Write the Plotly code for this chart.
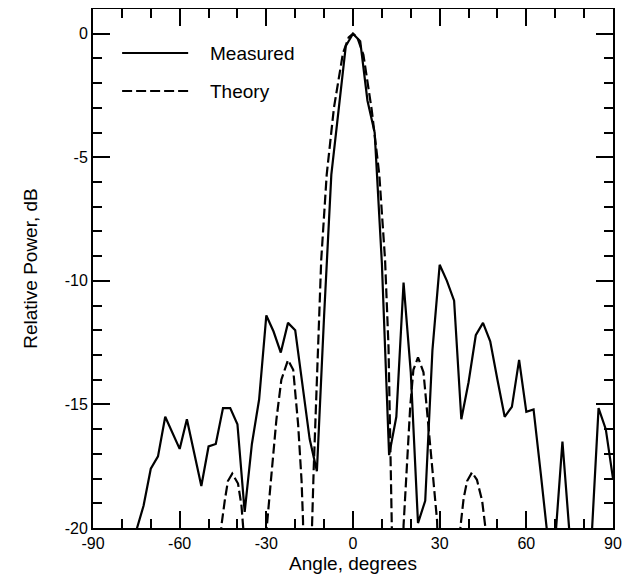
import plotly.graph_objects as go

# Measured pattern (angle in degrees, relative power in dB)
meas_angle = [-77.5, -75, -72.5, -70, -67.5, -65, -60, -57.5, -52.5, -50, -47.5, -45, -42.5, -40,
              -37.5, -35, -32.5, -30, -27.5, -25, -22.5, -20, -15, -12.5, -10, -7.5, -5, -2.5, 0,
              2.5, 5, 7.5, 10, 12.5, 15, 17.5, 20, 22.5, 25, 27.5, 30, 32.5, 35, 37.5, 40, 42.5,
              45, 47.5, 50, 52.5, 55, 57.5, 60, 62.5, 65, 67.5, 70, 72.5, 75, 77.5, 80, 82.5, 85,
              87.5, 90]
meas_db = [-21.0, -20.1, -19.1, -17.6, -17.1, -15.5, -16.8, -15.6, -18.3, -16.7, -16.6, -15.15, -15.15, -15.8,
           -19.35, -16.6, -14.8, -11.4, -12.05, -12.9, -11.7, -12.0, -16.4, -17.7, -11.4, -5.7, -3.1, -0.5, 0.0,
           -0.3, -2.7, -4.0, -9.3, -17.05, -15.5, -10.07, -13.7, -19.8, -18.9, -12.8, -9.35, -10.0, -10.8, -15.6, -14.1, -12.2,
           -11.7, -12.45, -14.0, -15.5, -15.1, -13.2, -15.3, -15.2, -17.8, -20.5, -20.5, -16.5, -20.3, -21.0, -21.0, -20.6, -15.15,
           -16.0, -18.0]

# Theory pattern
theo_angle = [-47.0, -45.6, -44.4, -43.3, -41.8, -39.8, -38.6, -38.0, -34.0,
              -29.8, -28.2, -26.5, -24.8, -22.5, -20.7, -19.0, -17.8, -17.3, -15.8,
              -14.2, -13.6, -12.2, -11.0, -9.1, -6.6, -3.5, -1.5, 0.0, 1.5, 3.6, 6.5, 9.1, 11.1, 12.3, 13.4, 14.0,
              15.8, 17.5, 18.6, 19.8, 20.9, 22.5, 24.4, 26.1, 27.5, 29.1, 33.0,
              37.2, 38.3, 39.5, 41.2, 42.9, 44.7, 45.8, 47.5]
theo_db = [-30.0, -19.95, -18.9, -18.1, -17.8, -18.2, -19.1, -20.0, -35.0,
           -19.9, -17.8, -15.6, -14.0, -13.2, -13.6, -15.8, -18.1, -19.7, -35.0,
           -20.0, -17.6, -12.7, -9.15, -5.7, -3.0, -0.8, -0.15, 0.0, -0.15, -0.85, -3.1, -5.7, -9.15, -12.7, -17.8, -20.0,
           -35.0, -19.9, -17.8, -15.1, -13.6, -13.1, -13.7, -15.8, -17.8, -19.7, -35.0,
           -19.95, -18.8, -18.1, -17.75, -18.05, -18.9, -19.95, -30.0]

x_ticks = [-90, -60, -30, 0, 30, 60, 90]
y_ticks = [0, -5, -10, -15, -20]
legend_names = ["Measured", "Theory"]

FONT = "Liberation Sans, Arial, sans-serif"
DASH = "10px,4px"

fig = go.Figure()
fig.add_trace(go.Scatter(x=meas_angle, y=meas_db, mode="lines", name=legend_names[0],
                         line=dict(color="black", width=2.2), showlegend=False))
fig.add_trace(go.Scatter(x=theo_angle, y=theo_db, mode="lines", name=legend_names[1],
                         line=dict(color="black", width=2.2, dash=DASH), showlegend=False))

# manual legend (long sample lines like the original)
leg_y = [0.915, 0.842]
dashes = ["solid", DASH]
for name, yy, dsh in zip(legend_names, leg_y, dashes):
    fig.add_shape(type="line", xref="paper", yref="paper", x0=0.056, x1=0.183, y0=yy, y1=yy,
                  line=dict(color="black", width=2, dash=dsh))
    fig.add_annotation(xref="paper", yref="paper", x=0.222, y=yy, text=name, showarrow=False,
                       xanchor="left", yanchor="middle", font=dict(size=19, color="black", family=FONT))

fig.update_xaxes(range=[-90, 90], tickvals=x_ticks, ticktext=[str(v) for v in x_ticks],
                 showline=True, linecolor="black", linewidth=2, mirror="ticks",
                 ticks="inside", tickcolor="black", tickwidth=2, ticklen=17,
                 showgrid=False, zeroline=False, automargin=False,
                 tickfont=dict(size=16, color="black", family=FONT),
                 title=dict(text="Angle, degrees", font=dict(size=19, color="black", family=FONT), standoff=6),
                 minor=dict(dtick=10, tick0=0, ticks="inside", ticklen=9, tickcolor="black", tickwidth=2))
fig.update_yaxes(range=[-20, 1], tickvals=y_ticks, ticktext=[str(v) for v in y_ticks],
                 showline=True, linecolor="black", linewidth=2, mirror="ticks",
                 ticks="inside", tickcolor="black", tickwidth=2, ticklen=17,
                 showgrid=False, zeroline=False, automargin=False,
                 tickfont=dict(size=16, color="black", family=FONT),
                 title=dict(text="Relative Power, dB", font=dict(size=19, color="black", family=FONT), standoff=22),
                 minor=dict(dtick=1, tick0=0, ticks="inside", ticklen=9, tickcolor="black", tickwidth=2))

# figure sized to sit inside the page's default 8px body margin
fig.update_layout(width=618, height=566, margin=dict(l=85, r=13, t=1, b=46, autoexpand=False),
                  paper_bgcolor="white", plot_bgcolor="white",
                  font=dict(family=FONT, color="black"))

fig.write_html("out.html")
